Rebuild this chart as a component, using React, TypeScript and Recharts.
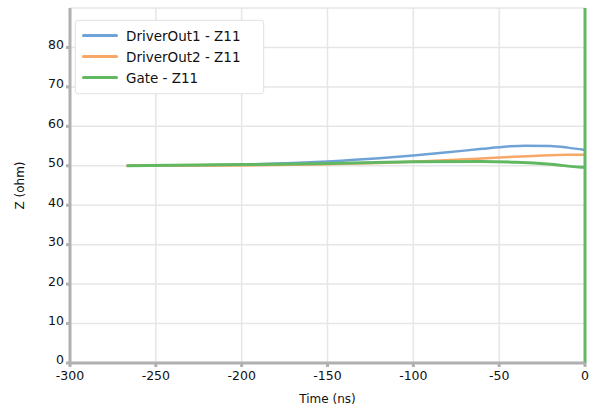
import { CartesianGrid, Line, LineChart, XAxis, YAxis } from "recharts";

const xTicks = [-300, -250, -200, -150, -100, -50, 0];
const yTicks = [0, 10, 20, 30, 40, 50, 60, 70, 80];

const driverOut1 = [
  { t: -267, z: 50.0 },
  { t: -230, z: 50.1 },
  { t: -200, z: 50.3 },
  { t: -170, z: 50.7 },
  { t: -150, z: 51.1 },
  { t: -120, z: 51.9 },
  { t: -100, z: 52.6 },
  { t: -80, z: 53.4 },
  { t: -60, z: 54.3 },
  { t: -45, z: 54.9 },
  { t: -35, z: 55.1 },
  { t: -20, z: 55.0 },
  { t: -10, z: 54.6 },
  { t: 0, z: 54.0 },
];

const driverOut2 = [
  { t: -267, z: 50.0 },
  { t: -200, z: 50.1 },
  { t: -150, z: 50.4 },
  { t: -120, z: 50.7 },
  { t: -100, z: 51.0 },
  { t: -75, z: 51.5 },
  { t: -50, z: 52.1 },
  { t: -30, z: 52.5 },
  { t: -10, z: 52.8 },
  { t: 0, z: 52.8 },
];

const gate = [
  { t: -267, z: 50.0 },
  { t: -200, z: 50.3 },
  { t: -150, z: 50.6 },
  { t: -100, z: 51.0 },
  { t: -60, z: 51.1 },
  { t: -40, z: 50.9 },
  { t: -20, z: 50.4 },
  { t: 0, z: 49.6 },
  { t: 0, z: 90 },
  { t: 0, z: 0 },
];

const series = [
  { name: "DriverOut1 - Z11", data: driverOut1, color: "#6fa3d6" },
  { name: "DriverOut2 - Z11", data: driverOut2, color: "#f7a766" },
  { name: "Gate - Z11", data: gate, color: "#62b862" },
];

const font = "'DejaVu Sans', sans-serif";

function LegendBox() {
  return (
    <div
      style={{
        position: "absolute",
        left: 75,
        top: 20,
        width: 189,
        background: "#fff",
        border: "1px solid #e6e6e6",
        borderRadius: 3,
        padding: "4px 0 5px 6px",
        fontFamily: font,
        fontSize: 13.5,
        color: "#111",
        boxShadow: "0 0 2px rgba(0,0,0,0.08)",
        boxSizing: "border-box",
      }}
    >
      {series.map((s) => (
        <div key={s.name} style={{ display: "flex", alignItems: "center", height: 21 }}>
          <span
            style={{
              display: "inline-block",
              width: 36,
              height: 3,
              background: s.color,
              marginRight: 8,
              borderRadius: 2,
            }}
          />
          {s.name}
        </div>
      ))}
    </div>
  );
}

export default function App() {
  return (
    <div style={{ position: "fixed", left: 0, top: 0, width: 600, height: 410, background: "#fff" }}>
      <LineChart width={600} height={410} margin={{ top: 8, right: 15, bottom: 7, left: 0 }}>
        <CartesianGrid stroke="#e6e6e6" strokeWidth={1.5} />
        <XAxis
          type="number"
          dataKey="t"
          domain={[-300, 0]}
          ticks={xTicks}
          height={40}
          stroke="#b0b0b0"
          strokeWidth={3}
          tickSize={4}
          tick={{ fontSize: 12.5, fill: "#111", fontFamily: font, dy: 2 }}
          label={{ value: "Time (ns)", position: "insideBottom", offset: 0, fontSize: 12, fill: "#111", fontFamily: font }}
        />
        <YAxis
          type="number"
          domain={[0, 90]}
          ticks={yTicks}
          width={70}
          stroke="#b0b0b0"
          strokeWidth={3}
          tickSize={4}
          tick={{ fontSize: 12.5, fill: "#111", fontFamily: font, dy: -3 }}
          label={{ value: "Z (ohm)", angle: -90, position: "insideLeft", offset: 20, fontSize: 12, fill: "#111", fontFamily: font, style: { textAnchor: "middle" } }}
        />
        {series.map((s) => (
          <Line
            key={s.name}
            data={s.data}
            dataKey="z"
            name={s.name}
            type="monotone"
            stroke={s.color}
            strokeWidth={s.name.startsWith("Gate") ? 3 : 2.5}
            dot={false}
            isAnimationActive={false}
          />
        ))}
      </LineChart>
      <LegendBox />
    </div>
  );
}
